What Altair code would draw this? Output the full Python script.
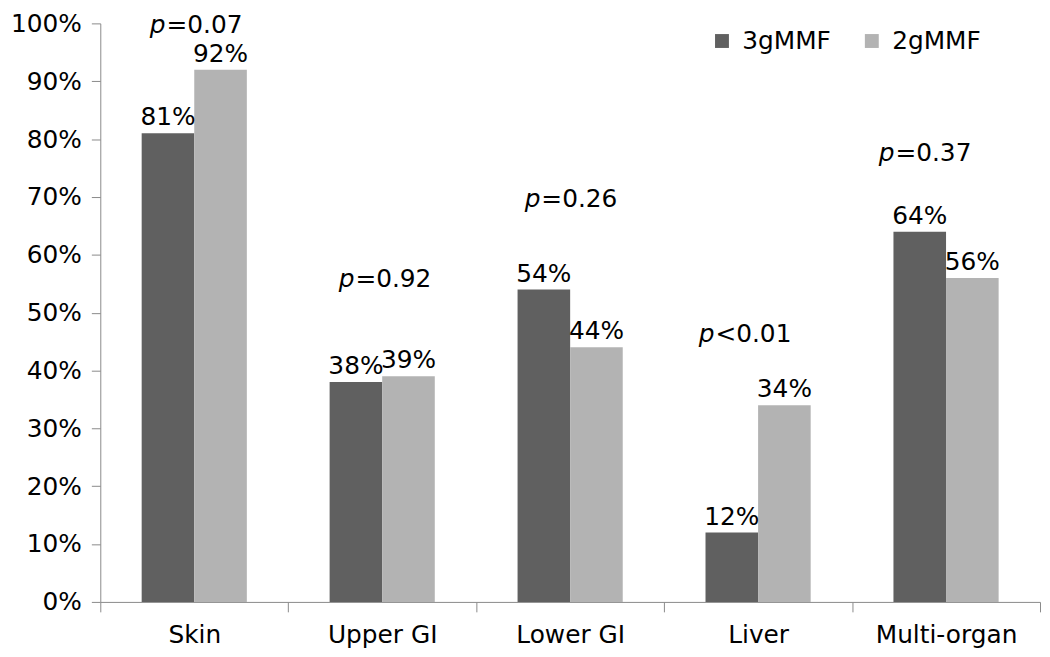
import altair as alt
import pandas as pd

# ---- data ----
categories = ["Skin", "Upper GI", "Lower GI", "Liver", "Multi-organ"]
series = ["3gMMF", "2gMMF"]
mmf3 = [81, 38, 54, 12, 64]
mmf2 = [92, 39, 44, 34, 56]
p_ops = ["=", "=", "=", "<", "="]
p_vals = ["0.07", "0.92", "0.26", "0.01", "0.37"]

# ---- annotation placement (y in data units, dx in pixels) ----
p_label_y = [98.3, 54.4, 68.3, 44.9, 76.2]
p_label_dx = [-28, -27, -29, -43, -51]

FONT = "DejaVu Sans"
FS = 25
DARK = "#606060"
LIGHT = "#b3b3b3"
AXIS_C = "#8a8a8a"

rows = []
for c, a, b in zip(categories, mmf3, mmf2):
    rows.append({"cat": c, "series": series[0], "value": a, "label": f"{a}%"})
    rows.append({"cat": c, "series": series[1], "value": b, "label": f"{b}%"})
df = pd.DataFrame(rows)

pdf = pd.DataFrame({
    "cat": categories,
    "rest": [o + v for o, v in zip(p_ops, p_vals)],
    "p": ["p"] * len(categories),
    "ypos": p_label_y,
})

xenc = alt.X(
    "cat:N",
    sort=categories,
    scale=alt.Scale(paddingInner=0, paddingOuter=0),
    axis=alt.Axis(
        title=None,
        labelAngle=0,
        tickBand="extent",
        tickSize=10,
        tickColor=AXIS_C,
        domainColor=AXIS_C,
        labelFont=FONT,
        labelFontSize=FS,
        labelColor="black",
        labelPadding=11,
    ),
)
xoff = alt.XOffset(
    "series:N", sort=series, scale=alt.Scale(paddingOuter=0.787, paddingInner=0.0)
)
yenc = alt.Y(
    "value:Q",
    scale=alt.Scale(domain=[0, 100], nice=False),
    axis=alt.Axis(
        title=None,
        values=list(range(0, 101, 10)),
        labelExpr="datum.value + '%'",
        grid=False,
        tickSize=9,
        tickColor=AXIS_C,
        domainColor=AXIS_C,
        labelFont=FONT,
        labelFontSize=FS,
        labelColor="black",
        labelPadding=10,
    ),
)

base = alt.Chart(df)

bars = base.mark_bar().encode(
    x=xenc,
    xOffset=xoff,
    y=yenc,
    color=alt.Color(
        "series:N",
        sort=series,
        scale=alt.Scale(domain=series, range=[DARK, LIGHT]),
        legend=alt.Legend(
            title=None,
            orient="none",
            legendX=614,
            legendY=5,
            direction="horizontal",
            symbolType="square",
            symbolSize=196,
            symbolStrokeWidth=0,
            labelFont=FONT,
            labelFontSize=FS,
            labelColor="black",
            labelOffset=8,
            columnPadding=28,
            padding=0,
        ),
    ),
)

vlabels = base.mark_text(
    font=FONT, fontSize=FS, color="black", baseline="alphabetic", dy=-8
).encode(
    x=alt.X("cat:N", sort=categories),
    xOffset=alt.XOffset("series:N", sort=series),
    y="value:Q",
    text="label:N",
)

layers = [bars, vlabels]
for c, dx in zip(categories, p_label_dx):
    sub = alt.Chart(pdf).transform_filter(alt.datum.cat == c)
    layers.append(
        sub.mark_text(
            font=FONT, fontSize=FS, fontStyle="italic", color="black",
            baseline="alphabetic", align="right", dx=dx - 1,
        ).encode(x=alt.X("cat:N", sort=categories), y=alt.Y("ypos:Q"), text="p:N")
    )
    layers.append(
        sub.mark_text(
            font=FONT, fontSize=FS, color="black",
            baseline="alphabetic", align="left", dx=dx,
        ).encode(x=alt.X("cat:N", sort=categories), y=alt.Y("ypos:Q"), text="rest:N")
    )

chart = (
    alt.layer(*layers)
    .properties(
        width=947,
        height=583,
        autosize=alt.AutoSizeParams(type="none"),
        padding={"left": 93, "top": 13, "right": 2, "bottom": 53},
        background="white",
    )
    .configure_view(stroke=None)
)

chart.save("out.html", embed_options={"renderer": "svg", "actions": False})
